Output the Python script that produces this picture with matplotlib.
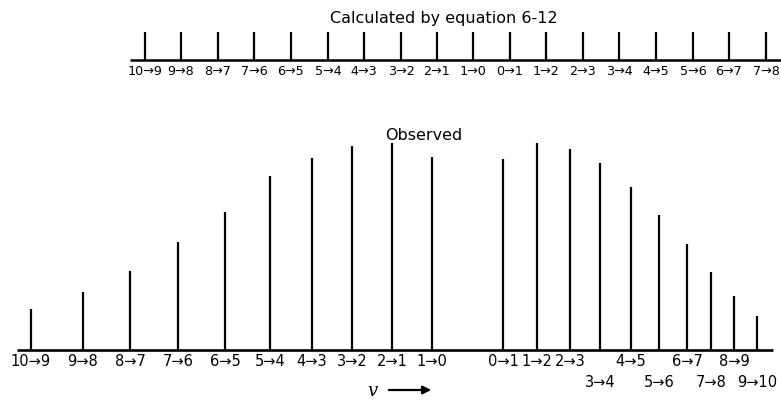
import matplotlib.pyplot as plt

# -------------------------
# Data
# -------------------------

calc_labels = ["10→9", "9→8", "8→7", "7→6", "6→5", "5→4", "4→3", "3→2", "2→1",
               "1→0", "0→1", "1→2", "2→3", "3→4", "4→5", "5→6", "6→7", "7→8"]
calc_pos = [145, 181, 218, 254, 291, 328, 364, 401, 437,
            473, 510, 546, 583, 619, 656, 693, 729, 766]

obs_labels = ["10→9", "9→8", "8→7", "7→6", "6→5", "5→4", "4→3", "3→2", "2→1", "1→0",
              "0→1", "1→2", "2→3", "3→4", "4→5", "5→6", "6→7", "7→8", "8→9", "9→10"]
obs_pos = [31, 83, 130, 178, 225, 270, 312, 352, 392, 432,
           503, 537, 570, 600, 631, 659, 687, 711, 734, 757]
obs_int = [41, 58, 79, 108, 138, 174, 192, 204, 207, 193,
           191, 207, 201, 187, 163, 135, 106, 78, 54, 34]
obs_row = [0, 0, 0, 0, 0, 0, 0, 0, 0, 0,
           0, 0, 0, 1, 0, 1, 0, 1, 0, 1]

W, H = 781, 402
plt.rcParams["font.family"] = ["DejaVu Sans"]

fig = plt.figure(figsize=(W / 100, H / 100), dpi=100)

# -------------------------
# Calculated (top strip)
# -------------------------

ax_c = fig.add_axes([0, (H - 61) / H, 1, 28 / H])
ax_c.set_xlim(0, W)
ax_c.set_ylim(0, 1)
ax_c.axis("off")
ax_c.vlines(calc_pos, 0, 1, color="black", lw=1.6)
ax_c.plot([130, W], [0, 0], color="black", lw=1.8, solid_capstyle="butt", clip_on=False)
for x, lab in zip(calc_pos, calc_labels):
    ax_c.text(x, -0.38, lab, ha="center", va="center", fontsize=9.2, clip_on=False)
ax_c.text(444, 1.5, "Calculated by equation 6-12", ha="center", va="center",
          fontsize=11.5)

# -------------------------
# Observed (bottom panel)
# -------------------------

ax_o = fig.add_axes([0, (H - 351) / H, 1, 220 / H])
ax_o.set_xlim(0, W)
ax_o.set_ylim(0, 220)
ax_o.axis("off")
ax_o.vlines(obs_pos, 0, obs_int, color="black", lw=1.6)
ax_o.plot([17, 773], [0, 0], color="black", lw=1.9, solid_capstyle="butt", clip_on=False)
for x, lab, r in zip(obs_pos, obs_labels, obs_row):
    ax_o.text(x, -11 - 21 * r, lab, ha="center", va="center", fontsize=10.5, clip_on=False)
ax_o.text(424, 216, "Observed", ha="center", va="center", fontsize=11.5)

ax_o.text(372, -40, "v", ha="center", va="center", fontsize=13,
          family="DejaVu Serif", style="italic", clip_on=False)
ax_o.annotate("", xy=(434, -40), xytext=(386, -40), annotation_clip=False,
              arrowprops=dict(arrowstyle="-|>", color="black", lw=1.6,
                              mutation_scale=12))

fig.savefig("out.png", dpi=100)
